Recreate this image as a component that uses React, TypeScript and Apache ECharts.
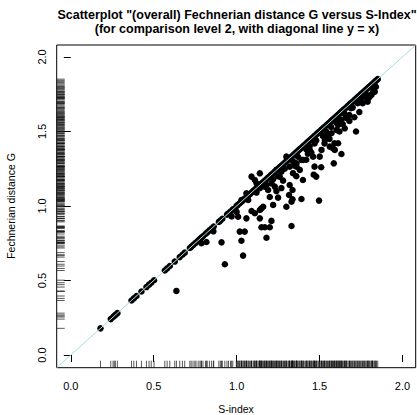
import React, { useEffect, useRef } from "react";
import * as echarts from "echarts";

// Points lying on the diagonal (G equals S)
const diagonalS: number[] = [
  0.179, 0.241, 0.255, 0.262, 0.269, 0.281, 0.366, 0.38, 0.396, 0.426, 0.456, 0.472, 0.485, 0.502,
  0.567, 0.581, 0.597, 0.627, 0.657, 0.673, 0.687, 0.718, 0.726, 0.737, 0.748, 0.755, 0.768, 0.779,
  0.786, 0.797, 0.812, 0.823, 0.836, 0.849, 0.862, 0.893, 0.902, 0.914, 0.942, 0.951, 0.963, 0.977,
  0.998, 1.004, 1.013, 1.02, 1.029, 1.038, 1.046, 1.052, 1.061, 1.069, 1.077, 1.083, 1.092, 1.101,
  1.107, 1.116, 1.124, 1.131, 1.14, 1.147, 1.155, 1.164, 1.171, 1.178, 1.187, 1.194, 1.203, 1.21,
  1.218, 1.227, 1.235, 1.242, 1.25, 1.259, 1.266, 1.273, 1.282, 1.29, 1.296, 1.305, 1.314, 1.32,
  1.328, 1.337, 1.345, 1.352, 1.36, 1.368, 1.376, 1.383, 1.391, 1.4, 1.407, 1.414, 1.423, 1.43,
  1.438, 1.447, 1.453, 1.461, 1.47, 1.477, 1.485, 1.492, 1.5, 1.509, 1.516, 1.524, 1.531, 1.54,
  1.547, 1.555, 1.562, 1.571, 1.578, 1.586, 1.594, 1.603, 1.61, 1.617, 1.626, 1.633, 1.641, 1.648,
  1.656, 1.665, 1.672, 1.68, 1.688, 1.695, 1.703, 1.712, 1.719, 1.727, 1.734, 1.743, 1.75, 1.758,
  1.766, 1.773, 1.781, 1.79, 1.797, 1.805, 1.812, 1.82, 1.828, 1.836, 1.843, 1.851,
];

// Points below the diagonal: [S-index, Fechnerian distance G]
const offDiagonal: [number, number][] = [
  [0.637, 0.43], [0.929, 0.609], [1.039, 0.667], [1.029, 0.767], [0.909, 0.756], [1.019, 0.828],
  [1.049, 0.828], [1.18, 0.787], [0.788, 0.75], [0.818, 0.758], [1.331, 0.866], [1.15, 0.857],
  [1.17, 0.857], [1.2, 0.857], [1.21, 0.9], [1.14, 0.917], [1.059, 0.917], [1.009, 0.928],
  [1.09, 0.966], [1.11, 0.951], [1.14, 0.973], [1.16, 0.995], [1.3, 0.995], [1.331, 1.029],
  [1.337, 1.045], [1.391, 1.047], [1.497, 1.036], [1.22, 1.007], [1.15, 0.984], [1.25, 1.056],
  [1.4, 1.174], [1.32, 1.141], [1.337, 1.107], [1.316, 1.074], [1.23, 1.13], [1.21, 1.152],
  [1.18, 1.141], [1.19, 1.107], [1.12, 1.152], [1.14, 1.119], [1.09, 1.197], [1.11, 1.174],
  [1.14, 1.219], [1.24, 1.242], [1.26, 1.197], [1.361, 1.287], [1.381, 1.242], [1.391, 1.309],
  [1.3, 1.331], [1.32, 1.264], [1.48, 1.197], [1.47, 1.264], [1.059, 1.085], [1.029, 1.04],
  [1.465, 1.21], [1.51, 1.26], [1.586, 1.286], [1.632, 1.349], [1.58, 1.387], [1.59, 1.42],
  [1.72, 1.5], [1.71, 1.595], [1.8, 1.73], [1.84, 1.8], [1.82, 1.76], [1.73, 1.69], [1.69, 1.656],
  [1.66, 1.59], [1.68, 1.61], [1.833, 1.767], [1.813, 1.745], [1.793, 1.723], [1.662, 1.6],
  [1.652, 1.521], [1.622, 1.577], [1.612, 1.544], [1.602, 1.51], [1.572, 1.488], [1.612, 1.421],
  [1.592, 1.376], [1.562, 1.398], [1.532, 1.443], [1.512, 1.376], [1.501, 1.331], [1.461, 1.331],
  [1.441, 1.376], [1.401, 1.309], [1.361, 1.264], [1.07, 1.04], [1.12, 1.09], [1.17, 1.13],
  [1.22, 1.18], [1.27, 1.23], [1.29, 1.25], [1.34, 1.3], [1.37, 1.33], [1.42, 1.38], [1.44, 1.4],
  [1.48, 1.44], [1.52, 1.47], [1.54, 1.5], [1.57, 1.53], [1.6, 1.56], [1.63, 1.58], [1.65, 1.62],
  [1.7, 1.66], [1.75, 1.72], [1.77, 1.73], [1.78, 1.75], [1.82, 1.79], [1.25, 1.2], [1.35, 1.27],
  [1.43, 1.35], [1.47, 1.42], [1.55, 1.47], [1.28, 1.17], [1.2, 1.06], [1.24, 1.1], [1.27, 1.12],
  [1.34, 1.22], [1.36, 1.2], [1.42, 1.31], [1.45, 1.36], [1.53, 1.42], [1.56, 1.45], [1.62, 1.5],
  [1.64, 1.55], [1.68, 1.57], [1.74, 1.63], [1.76, 1.69], [1.79, 1.7], [0.97, 0.93], [1.0, 0.96],
  [0.86, 0.83],
];

const xTicks = [0, 0.5, 1, 1.5, 2];
const yTicks = [0, 0.5, 1, 1.5, 2];
const axisMin = -0.085;
const axisMax = 2.08;

const titleLine1 = 'Scatterplot "(overall) Fechnerian distance G versus S-Index"';
const titleLine2 = "(for comparison level 2, with diagonal line y = x)";
const xTitle = "S-index";
const yTitle = "Fechnerian distance G";

const FONT = "'Liberation Sans', Arial, Helvetica, sans-serif";

export default function App() {
  const ref = useRef<HTMLDivElement>(null);

  useEffect(() => {
    const chart = echarts.init(ref.current!, null, { renderer: "svg" });
    const points: number[][] = [
      ...diagonalS.map((s) => [s, s]),
      ...offDiagonal.map((p) => [p[0], p[1]]),
    ];

    chart.setOption({
      animation: false,
      backgroundColor: "#fff",
      grid: {
        left: 56.7,
        top: 45,
        right: 1.3,
        bottom: 47.3,
        show: true,
        borderColor: "#000",
        borderWidth: 1,
        backgroundColor: "transparent",
      },
      graphic: [
        {
          type: "text",
          x: 237,
          y: 15,
          style: {
            text: titleLine1,
            font: `bold 12.5px ${FONT}`,
            fill: "#000",
            textAlign: "center",
            textVerticalAlign: "middle",
          },
        },
        {
          type: "text",
          x: 237,
          y: 29,
          style: {
            text: titleLine2,
            font: `bold 12.5px ${FONT}`,
            fill: "#000",
            textAlign: "center",
            textVerticalAlign: "middle",
          },
        },
        {
          type: "text",
          x: 236,
          y: 408.5,
          style: {
            text: xTitle,
            font: `10.5px ${FONT}`,
            fill: "#000",
            textAlign: "center",
            textVerticalAlign: "middle",
          },
        },
        {
          type: "text",
          x: 11,
          y: 206,
          rotation: Math.PI / 2,
          style: {
            text: yTitle,
            font: `10.5px ${FONT}`,
            fill: "#000",
            textAlign: "center",
            textVerticalAlign: "middle",
          },
        },
      ],
      xAxis: {
        type: "value",
        min: axisMin,
        max: axisMax,
        axisLine: { show: false },
        axisTick: { show: true, length: 7, lineStyle: { color: "#000", width: 1 }, customValues: xTicks },
        axisLabel: {
          customValues: xTicks,
          formatter: (v: number) => v.toFixed(1),
          margin: 13,
          fontSize: 11,
          fontFamily: FONT,
          color: "#000",
        },
        splitLine: { show: false },
      },
      yAxis: {
        type: "value",
        min: axisMin,
        max: axisMax,
        axisLine: { show: false },
        axisTick: { show: true, length: 7, lineStyle: { color: "#000", width: 1 }, customValues: yTicks },
        axisLabel: {
          customValues: yTicks,
          formatter: (v: number) => v.toFixed(1),
          rotate: 90,
          margin: 9,
          fontSize: 11,
          fontFamily: FONT,
          color: "#000",
        },
        splitLine: { show: false },
      },
      series: [
        {
          type: "custom",
          data: points,
          silent: true,
          z: 1,
          renderItem: (_params: any, api: any) => {
            const p = api.coord([api.value(0), axisMin]);
            return {
              type: "line",
              shape: { x1: p[0], y1: p[1], x2: p[0], y2: p[1] - 7 },
              style: { stroke: "#111", lineWidth: 0.7 },
            };
          },
        },
        {
          type: "custom",
          data: points,
          silent: true,
          z: 1,
          renderItem: (_params: any, api: any) => {
            const p = api.coord([axisMin, api.value(1)]);
            return {
              type: "line",
              shape: { x1: p[0], y1: p[1], x2: p[0] + 8, y2: p[1] },
              style: { stroke: "#111", lineWidth: 0.7 },
            };
          },
        },
        {
          type: "scatter",
          data: points,
          symbol: "circle",
          symbolSize: 6.5,
          itemStyle: { color: "#000", opacity: 1 },
          z: 2,
        },
        {
          type: "line",
          data: [
            [axisMin, axisMin],
            [axisMax, axisMax],
          ],
          symbol: "none",
          lineStyle: { color: "#ADD8E6", width: 1, opacity: 1 },
          z: 3,
          silent: true,
        },
      ],
    });

    return () => chart.dispose();
  }, []);

  return (
    <div
      ref={ref}
      style={{ position: "fixed", left: 0, top: 0, width: 417, height: 415, background: "#fff" }}
    />
  );
}
